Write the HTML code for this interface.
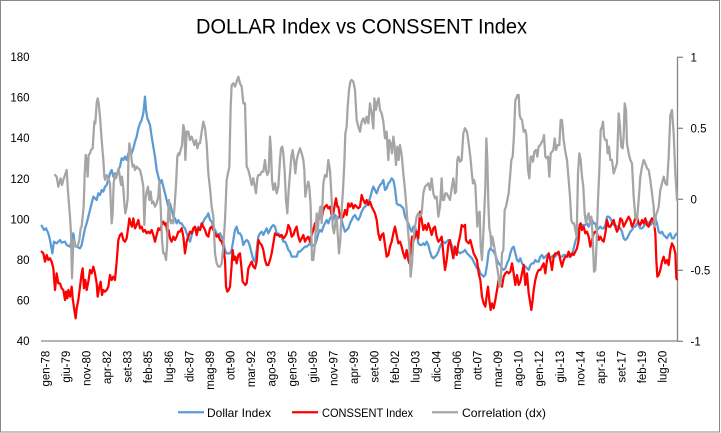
<!DOCTYPE html>
<html>
<head>
<meta charset="utf-8">
<style>
html,body{margin:0;padding:0;background:#fff;}
svg{display:block;}
text{font-family:"Liberation Sans",Arial,sans-serif;fill:#000;}
</style>
</head>
<body>
<svg width="721" height="433" viewBox="0 0 721 433" xmlns="http://www.w3.org/2000/svg">
<rect x="0" y="0" width="721" height="433" fill="#fff"/>
<rect x="0.5" y="0.5" width="719" height="431.5" fill="none" stroke="#898989" stroke-width="1"/>

<text x="196" y="33.3" font-size="21" textLength="331" lengthAdjust="spacingAndGlyphs">DOLLAR Index vs CONSSENT Index</text>

<!-- left axis labels -->
<g font-size="11.5" text-anchor="end">
<text x="29.5" y="61.1">180</text>
<text x="29.5" y="101.7">160</text>
<text x="29.5" y="142.2">140</text>
<text x="29.5" y="182.8">120</text>
<text x="29.5" y="223.4">100</text>
<text x="29.5" y="264">80</text>
<text x="29.5" y="304.5">60</text>
<text x="29.5" y="345.1">40</text>
</g>

<!-- right axis -->
<line x1="677.5" y1="57" x2="677.5" y2="341.5" stroke="#868686" stroke-width="1.3"/>
<g stroke="#868686" stroke-width="1.3">
<line x1="677" y1="57.3" x2="683" y2="57.3"/>
<line x1="677" y1="128.3" x2="683" y2="128.3"/>
<line x1="677" y1="199.3" x2="683" y2="199.3"/>
<line x1="677" y1="270.3" x2="683" y2="270.3"/>
<line x1="677" y1="341.3" x2="683" y2="341.3"/>
</g>
<g font-size="11.5">
<text x="690.5" y="61.4">1</text>
<text x="690.5" y="132.4">0.5</text>
<text x="690.5" y="203.4">0</text>
<text x="690.5" y="274.4">-0.5</text>
<text x="690.5" y="345.4">-1</text>
</g>

<!-- x axis -->
<line x1="41" y1="341" x2="678" y2="341" stroke="#868686" stroke-width="1.3"/>
<g font-size="11.5" text-anchor="end">
<text transform="translate(49.3,350.7) rotate(-90)">gen-78</text>
<text transform="translate(69.9,350.7) rotate(-90)">giu-79</text>
<text transform="translate(90.5,350.7) rotate(-90)">nov-80</text>
<text transform="translate(111.0,350.7) rotate(-90)">apr-82</text>
<text transform="translate(131.6,350.7) rotate(-90)">set-83</text>
<text transform="translate(152.2,350.7) rotate(-90)">feb-85</text>
<text transform="translate(172.8,350.7) rotate(-90)">lug-86</text>
<text transform="translate(193.4,350.7) rotate(-90)">dic-87</text>
<text transform="translate(213.9,350.7) rotate(-90)">mag-89</text>
<text transform="translate(234.5,350.7) rotate(-90)">ott-90</text>
<text transform="translate(255.1,350.7) rotate(-90)">mar-92</text>
<text transform="translate(275.7,350.7) rotate(-90)">ago-93</text>
<text transform="translate(296.3,350.7) rotate(-90)">gen-95</text>
<text transform="translate(316.8,350.7) rotate(-90)">giu-96</text>
<text transform="translate(337.4,350.7) rotate(-90)">nov-97</text>
<text transform="translate(358.0,350.7) rotate(-90)">apr-99</text>
<text transform="translate(378.6,350.7) rotate(-90)">set-00</text>
<text transform="translate(399.2,350.7) rotate(-90)">feb-02</text>
<text transform="translate(419.7,350.7) rotate(-90)">lug-03</text>
<text transform="translate(440.3,350.7) rotate(-90)">dic-04</text>
<text transform="translate(460.9,350.7) rotate(-90)">mag-06</text>
<text transform="translate(481.5,350.7) rotate(-90)">ott-07</text>
<text transform="translate(502.1,350.7) rotate(-90)">mar-09</text>
<text transform="translate(522.6,350.7) rotate(-90)">ago-10</text>
<text transform="translate(543.2,350.7) rotate(-90)">gen-12</text>
<text transform="translate(563.8,350.7) rotate(-90)">giu-13</text>
<text transform="translate(584.4,350.7) rotate(-90)">nov-14</text>
<text transform="translate(605.0,350.7) rotate(-90)">apr-16</text>
<text transform="translate(625.5,350.7) rotate(-90)">set-17</text>
<text transform="translate(646.1,350.7) rotate(-90)">feb-19</text>
<text transform="translate(666.7,350.7) rotate(-90)">lug-20</text>
</g>

<!-- series -->
<g fill="none" stroke-width="2.25" stroke-linejoin="round" stroke-linecap="round">
<!-- Dollar (blue) -->
<g stroke="#5B9BD5">
<polyline vector-effect="non-scaling-stroke" transform="translate(40,60) scale(0.33333)" points="5,497 12,510 18,505 25,520 30,540 37,580 42,545 50,550 60,540 65,548 75,545 80,555 90,560 95,540 100,520 105,555 110,560 120,565 125,555 130,530 135,505 140,490 145,470 150,450 155,430 160,410 165,415 170,420 175,400 180,405 185,390 190,395 195,380 200,375 205,360 210,340 215,330 220,350 225,340 230,345 235,330 240,320 245,295 250,300 255,290 260,300 265,280 270,275 275,280 280,265 285,245 290,230 295,205 300,190 305,180 310,160 315,110 318,150 322,175 330,195 335,230 340,260 345,290 350,330 355,350 360,370 365,360 370,380 375,400 380,420 385,440 390,430 395,450 400,470 405,475 410,490 415,480 420,490 425,490 430,500 435,505 440,520 445,535 450,545 455,525 460,510 465,505 470,510 475,500 480,510 485,500 490,485 495,475 500,470 505,460 510,480 515,485 520,500 525,510 530,520 535,525 540,520 545,530 550,545 555,570 560,580 565,580 570,580 575,570 580,540 585,510 590,500 595,520 600,520 605,530 610,555 615,545 620,540 625,545 630,560 635,580 640,600 645,605"/>
<polyline vector-effect="non-scaling-stroke" transform="translate(250,60) scale(0.33333)" points="15,605 20,570 25,530 30,520 35,515 40,525 45,515 50,505 55,520 60,510 65,500 70,495 75,500 80,520 85,520 90,525 95,530 100,545 105,545 110,555 115,570 120,575 125,590 130,590 140,590 145,575 150,575 155,570 160,565 165,560 170,560 175,555 180,550 185,560 190,555 195,555 200,540 205,520 210,510 215,515 220,500 225,490 230,480 235,490 240,475 245,470 250,480 255,465 260,470 265,475 270,465 275,480 280,500 285,515 290,510 295,505 300,490 305,480 310,470 315,465 320,475 325,480 330,470 335,455 340,445 345,440 350,435 355,425 360,415 365,395 370,380 375,390 380,400 385,385 390,375 395,370 400,360 405,390 410,385 415,370 420,365 425,355 430,360 435,385 440,430 445,435 450,435 455,440 460,445 465,470 470,480 475,490 480,505 485,515 490,500 495,500 500,520 505,550 510,555 515,555 520,550 525,555 530,545 535,555 540,575 545,590 550,595 555,590 560,585 565,575 570,560 575,550 580,545 585,550 590,545 595,540 600,545 605,555 610,570 615,575 620,570 625,575 630,580 640,575 645,570"/>
<polyline vector-effect="non-scaling-stroke" transform="translate(462,60) scale(0.33333)" points="9,570 15,580 20,585 25,590 30,595 35,605 40,615 45,625 50,625 55,640 60,645 65,650 70,645 75,615 80,575 85,565 90,570 95,575 100,585 105,600 110,610 115,615 120,625 125,630 130,625 135,610 140,600 145,580 150,565 155,560 160,580 165,600 170,605 175,595 180,610 185,615 190,620 195,625 200,630 205,615 210,610 215,610 220,600 225,605 230,605 235,590 240,585 245,595 250,590 255,585 260,590 265,595 270,590 275,585 280,590 285,580 290,585 295,590 300,590 305,585 310,585 315,590 320,590 325,590 330,585 335,565 340,545 345,530 350,505 355,500 360,495 365,495 370,495 375,490 380,500 385,485 390,480 395,490 400,490 405,510 410,505 415,500 420,505 425,505 430,495 435,470 440,470 445,475 450,485 455,495 460,495 465,500 470,500 475,505 480,515 485,535 490,540 495,535 500,525 505,515 510,510 515,500 520,500 525,490 530,495 535,505 540,505 545,500 550,490 555,485 560,490 565,495 570,490 575,480 580,475 585,490 590,515 595,520 600,515 605,525 610,530 615,535 620,525 625,520 630,535 635,535 640,525 645,520"/>
</g>
<!-- CONSSENT (red) -->
<g stroke="#FF0000">
<polyline vector-effect="non-scaling-stroke" transform="translate(40,60) scale(0.33333)" points="5,575 10,580 15,605 20,585 25,600 30,595 35,605 40,625 45,690 50,640 55,670 60,670 65,685 70,690 75,720 78,695 82,715 85,690 90,710 95,680 98,715 103,750 107,775 110,745 115,720 120,680 125,640 128,625 132,685 136,660 140,690 145,665 150,630 155,640 160,620 165,640 170,670 173,710 178,680 182,665 186,705 190,690 195,695 200,690 205,680 210,645 215,660 220,650 225,660 230,605 235,540 240,525 245,520 250,540 255,545 260,535 265,500 268,475 272,490 276,500 280,475 285,505 290,495 295,480 300,505 305,500 310,515 315,510 320,520 325,515 330,520 335,510 340,525 345,545 350,525 355,505 360,510 365,495 370,485 375,495 378,490 382,520 386,510 390,535 395,545 400,530 405,540 410,530 415,515 420,515 425,505 430,530 435,580 440,545 445,530 450,515 455,520 460,505 465,500 470,525 475,505 480,510 485,490 490,500 495,510 500,525 505,530 510,505 515,500 520,510 525,520 530,530 535,525 540,540 545,545 550,560 555,600 558,680 562,695 566,690 570,680 575,615 578,570 582,600 586,590 590,610 595,585 600,580 605,630 608,665 612,670 616,675 620,670 625,625 630,615 635,605 640,620 645,625"/>
<polyline vector-effect="non-scaling-stroke" transform="translate(250,60) scale(0.33333)" points="15,625 20,605 25,540 30,550 35,555 40,570 45,600 50,615 55,615 60,600 65,580 70,550 75,520 80,525 85,525 90,530 95,525 100,535 105,530 110,520 115,495 120,505 125,530 130,525 135,510 140,500 145,530 150,545 155,535 160,525 165,545 170,535 175,530 180,545 185,525 190,510 195,490 200,495 205,480 210,465 215,475 220,450 225,440 230,435 235,445 240,440 245,465 250,460 255,430 258,415 262,440 265,440 270,470 275,475 280,470 285,450 290,465 295,430 300,440 305,430 310,445 315,435 320,440 325,445 330,440 335,405 340,420 345,430 350,420 355,435 360,425 365,440 370,450 375,460 380,480 385,520 390,540 395,525 400,520 405,555 410,590 415,585 420,560 425,545 430,520 435,500 440,525 445,550 450,545 455,560 460,580 465,595 470,570 475,600 478,610 482,570 486,530 490,545 495,530 500,515 505,535 510,455 515,480 520,510 525,495 530,510 535,490 540,505 545,525 550,505 555,500 560,530 565,545 570,540 575,530 580,580 585,630 590,600 595,555 600,540 605,570 610,595 615,560 620,585 625,550 630,530 635,495 640,500 645,495"/>
<polyline vector-effect="non-scaling-stroke" transform="translate(462,60) scale(0.33333)" points="9,495 12,540 15,545 20,550 25,540 30,560 35,580 40,590 45,600 50,640 55,660 60,710 65,730 70,740 75,700 78,680 82,720 86,750 90,730 95,745 100,720 105,690 110,660 115,655 120,680 125,650 130,640 135,635 140,640 145,635 150,610 155,640 160,675 165,645 170,675 175,665 180,640 185,615 190,675 195,640 200,700 205,730 208,750 212,720 215,690 220,660 225,640 230,630 235,630 240,620 245,610 250,640 255,600 260,580 265,600 270,630 275,590 280,580 285,580 290,575 295,600 300,620 305,600 310,590 315,590 320,575 325,590 330,580 335,585 340,575 345,565 350,540 353,495 356,490 360,510 365,500 370,520 375,515 380,530 385,560 390,540 395,520 400,515 405,520 410,540 415,530 420,540 425,545 430,520 435,480 440,500 445,500 450,490 455,480 460,500 465,515 470,505 475,475 480,480 485,500 490,490 495,480 500,470 505,480 510,500 515,490 520,475 525,470 530,490 535,495 540,480 545,490 550,475 555,495 560,500 565,485 570,475 575,480 580,520 583,600 586,650 590,645 595,630 600,605 605,590 610,610 615,600 620,615 625,570 630,550 635,560 640,580 643,655 645,658"/>
</g>
<!-- Correlation (gray) -->
<g stroke="#A5A5A5">
<polyline vector-effect="non-scaling-stroke" transform="translate(40,60) scale(0.33333)" points="45,345 50,350 55,380 58,370 62,355 66,375 70,360 75,345 80,330 83,380 86,420 90,470 93,520 96,655 100,540 103,545 106,560 110,560 114,555 118,540 122,505 125,500 128,470 131,440 134,345 137,285 140,300 143,350 146,285 150,280 153,270 158,265 163,185 166,190 170,130 173,115 176,130 180,170 185,240 190,300 193,350 196,360 200,345 205,355 210,370 212,420 215,490 218,460 221,370 224,345 228,355 232,340 236,325 240,355 243,375 246,350 250,385 253,430 256,460 260,440 263,415 265,310 268,250 272,270 275,300 278,320 282,315 285,330 290,320 295,325 300,330 305,350 310,380 313,495 316,420 320,395 324,380 328,420 332,395 336,430 340,425 345,440 350,430 355,410 358,365 362,440 366,540 370,580 374,580 378,600 381,560 384,470 387,420 390,480 393,490 396,480 400,490 405,420 408,375 412,290 415,280 418,285 422,270 426,255 430,195 433,210 436,300 440,215 445,215 450,240 455,230 460,245 463,255 468,240 472,265 476,250 480,250 485,215 490,185 495,205 500,250 505,340 510,385 515,440 520,470 525,580 530,610 535,620 540,620 545,610 550,560 555,480 560,360 565,335 568,320 572,140 575,75 580,70 585,80 590,65 595,50 600,70 605,80 610,130 615,130 620,320 625,330 630,350 635,375 640,355"/>
<polyline vector-effect="non-scaling-stroke" transform="translate(250,60) scale(0.33333)" points="10,355 18,400 22,355 25,345 30,345 35,335 40,335 45,300 48,330 52,345 56,335 60,230 63,270 66,360 70,390 75,370 80,400 85,380 90,300 93,265 97,260 100,280 104,335 108,420 112,460 116,390 120,340 124,290 128,270 132,300 136,340 140,300 145,280 150,265 155,280 160,300 163,330 166,410 170,385 175,365 178,380 182,440 186,600 190,600 195,550 200,460 203,515 207,465 211,440 215,490 220,370 225,345 230,350 235,300 240,330 245,420 248,500 252,520 256,490 260,470 263,520 267,580 271,540 275,450 279,390 283,310 286,220 290,200 293,140 297,90 301,65 305,60 310,65 315,90 320,180 325,200 330,215 335,185 340,175 345,190 350,170 355,190 360,130 365,160 370,205 373,115 378,150 382,125 386,115 390,150 395,160 400,185 405,235 410,215 415,300 418,240 422,250 426,280 430,230 434,260 438,315 442,260 446,300 450,255 455,285 460,340 465,390 470,450 474,510 478,560 482,650 486,610 490,540 495,500 500,470 505,460 510,470 515,460 520,400 525,380 530,375 535,370 540,390 545,355 550,400 555,415 560,410 565,470 570,440 575,355 578,420 582,420 586,400 590,400 595,410 600,420 605,385 610,355 615,400 618,395 622,300 625,290 630,305 635,300 640,220 645,205"/>
<polyline vector-effect="non-scaling-stroke" transform="translate(462,60) scale(0.33333)" points="9,205 15,215 20,250 25,290 30,345 33,370 36,360 40,375 43,440 46,500 50,460 53,455 56,560 60,600 65,500 70,380 73,235 76,300 79,430 82,505 85,520 88,560 91,530 95,550 100,580 105,620 110,650 113,680 116,670 120,580 124,570 128,450 132,440 136,420 140,400 145,340 148,300 152,290 156,225 160,120 163,115 166,105 170,105 173,165 176,175 180,180 185,215 190,210 193,225 198,330 202,355 206,290 210,290 213,305 217,275 222,270 226,290 230,260 235,255 240,245 243,240 246,225 250,290 254,295 258,290 262,350 266,280 270,275 274,270 278,235 282,270 287,255 292,255 296,180 300,180 305,240 310,275 315,300 320,360 324,410 328,480 332,490 336,490 340,510 344,530 348,340 352,280 356,300 360,350 364,380 368,460 372,490 376,470 380,460 384,490 388,470 392,530 396,635 400,630 404,545 408,420 412,330 416,210 420,200 423,185 426,230 430,240 434,240 437,280 441,260 445,300 450,300 455,340 460,325 465,310 470,160 474,200 478,260 482,265 485,230 488,130 492,150 495,250 500,280 505,300 510,310 515,410 520,470 525,480 530,420 535,350 540,320 545,300 550,310 555,325 560,330 565,360 570,400 575,440 578,500 582,465 586,455 590,440 595,390 600,370 605,350 610,370 615,375 620,290 625,165 630,150 635,220 640,340 645,420"/>
</g>
</g>

<!-- legend -->
<line x1="178" y1="412.3" x2="204" y2="412.3" stroke="#5B9BD5" stroke-width="2.25"/>
<text x="207" y="417" font-size="12" textLength="64" lengthAdjust="spacingAndGlyphs">Dollar Index</text>
<line x1="292" y1="412.3" x2="318" y2="412.3" stroke="#FF0000" stroke-width="2.25"/>
<text x="322" y="417" font-size="12" textLength="91" lengthAdjust="spacingAndGlyphs">CONSSENT Index</text>
<line x1="432" y1="412.3" x2="458" y2="412.3" stroke="#A5A5A5" stroke-width="2.25"/>
<text x="462" y="417" font-size="12" textLength="84" lengthAdjust="spacingAndGlyphs">Correlation (dx)</text>
</svg>
</body>
</html>
